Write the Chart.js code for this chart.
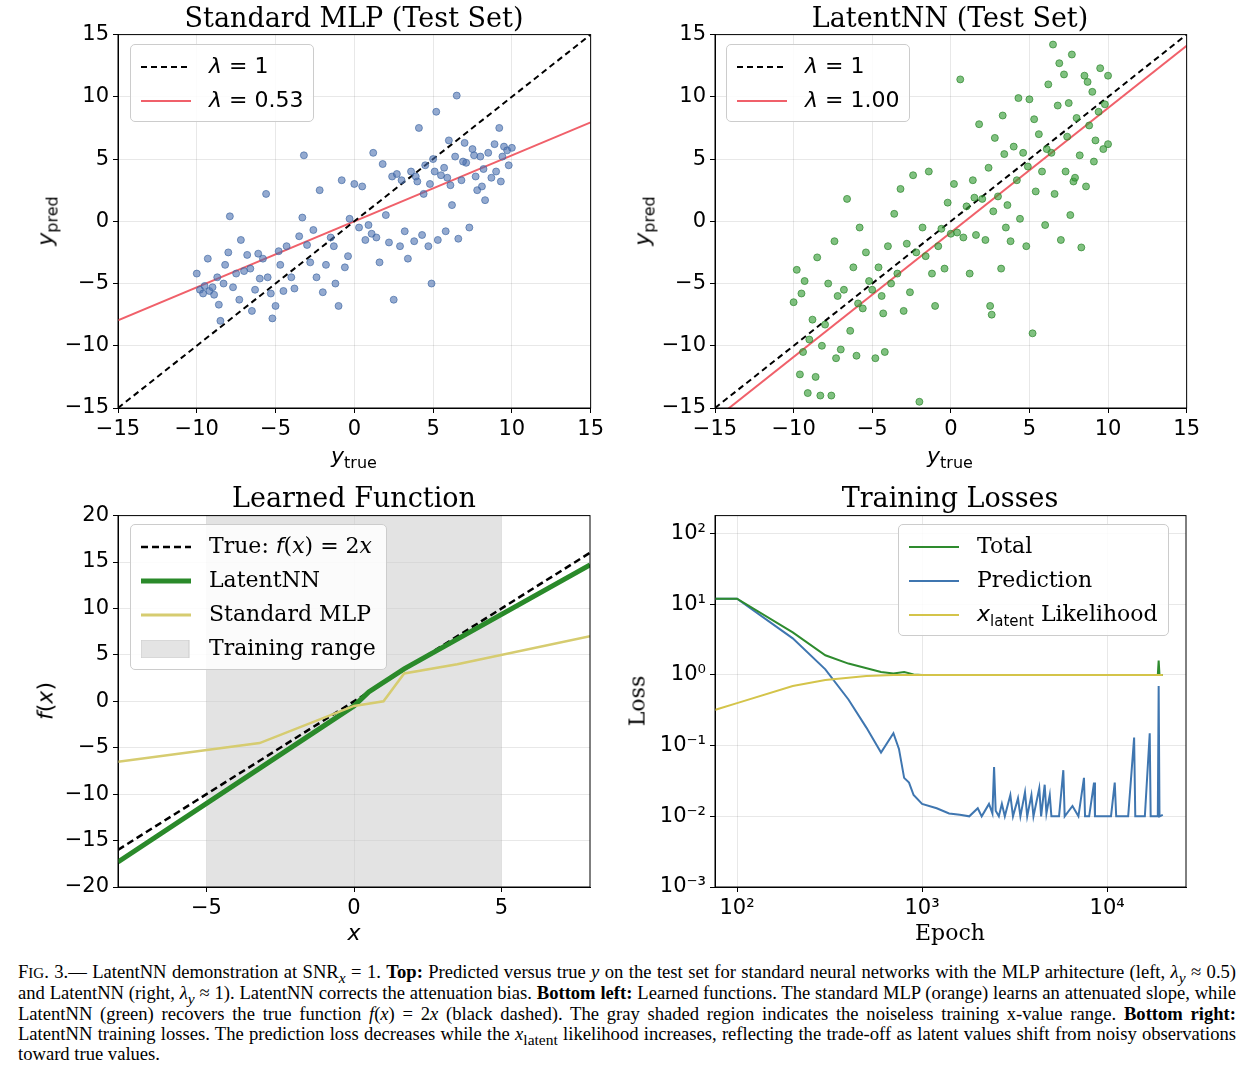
<!DOCTYPE html>
<html><head><meta charset="utf-8">
<script src="https://cdn.jsdelivr.net/npm/chart.js@4"></script>
<style>
body{margin:0;width:1251px;height:1069px;background:#fff;position:relative;font-family:"DejaVu Sans";}
canvas{position:absolute;}
sub{line-height:0;}
.t{position:absolute;font-family:"DejaVu Serif";font-size:27px;transform:translateX(-50%);white-space:nowrap;}
.al{position:absolute;font-size:22px;white-space:nowrap;transform:translate(-50%,-50%);}
.rot{transform:translate(-50%,-50%) rotate(-90deg);}
.lg{position:absolute;background:rgba(255,255,255,0.85);border:1px solid #ccc;border-radius:5px;font-size:22px;padding:4px 10px;}
.lg div{height:34px;line-height:34px;white-space:nowrap;}
.lg svg{vertical-align:middle;margin-right:18px;}
.cap{position:absolute;left:18px;top:962px;width:1218px;font-family:"Liberation Serif";font-size:18.6px;line-height:20.3px;text-align:justify;}
</style></head><body>
<canvas id="c1" style="left:43px;top:18px" width="565" height="425"></canvas>
<canvas id="c2" style="left:640px;top:18px" width="564" height="425"></canvas>
<canvas id="c3" style="left:43px;top:499px" width="557" height="423"></canvas>
<canvas id="c4" style="left:640px;top:499px" width="556" height="423"></canvas>

<div class="t" style="left:354px;top:2px">Standard MLP (Test Set)</div>
<div class="t" style="left:950px;top:2px">LatentNN (Test Set)</div>
<div class="t" style="left:354px;top:482px">Learned Function</div>
<div class="t" style="left:950px;top:482px">Training Losses</div>

<div class="al" style="left:354px;top:455px"><i>y</i><sub style="font-size:16px">true</sub></div>
<div class="al" style="left:950px;top:455px"><i>y</i><sub style="font-size:16px">true</sub></div>
<div class="al rot" style="left:45px;top:221px"><i>y</i><sub style="font-size:16px">pred</sub></div>
<div class="al rot" style="left:642px;top:221px"><i>y</i><sub style="font-size:16px">pred</sub></div>
<div class="al" style="left:354px;top:932px"><i>x</i></div>
<div class="al rot" style="left:45px;top:701px"><i>f</i>(<i>x</i>)</div>
<div class="al" style="left:950px;top:932px;font-family:'DejaVu Serif'">Epoch</div>
<div class="al rot" style="left:637px;top:701px;font-family:'DejaVu Serif'">Loss</div>

<div class="lg" style="left:130px;top:44px">
<div><svg width="50" height="4"><line x1="0" y1="2" x2="50" y2="2" stroke="#000" stroke-width="2" stroke-dasharray="6,4"/></svg><i>λ</i> = 1</div>
<div><svg width="50" height="4"><line x1="0" y1="2" x2="50" y2="2" stroke="#f0606a" stroke-width="2"/></svg><i>λ</i> = 0.53</div></div>
<div class="lg" style="left:726px;top:44px">
<div><svg width="50" height="4"><line x1="0" y1="2" x2="50" y2="2" stroke="#000" stroke-width="2" stroke-dasharray="6,4"/></svg><i>λ</i> = 1</div>
<div><svg width="50" height="4"><line x1="0" y1="2" x2="50" y2="2" stroke="#f0606a" stroke-width="2"/></svg><i>λ</i> = 1.00</div></div>
<div class="lg" style="left:130px;top:524px;font-family:'DejaVu Serif'">
<div><svg width="50" height="6"><line x1="0" y1="3" x2="50" y2="3" stroke="#000" stroke-width="2.5" stroke-dasharray="7,4"/></svg>True: <i style="font-family:'DejaVu Sans'">f</i>(<i>x</i>) = 2<i>x</i></div>
<div><svg width="50" height="6"><line x1="0" y1="3" x2="50" y2="3" stroke="#2a8a2a" stroke-width="5"/></svg>LatentNN</div>
<div><svg width="50" height="6"><line x1="0" y1="3" x2="50" y2="3" stroke="#d6cc70" stroke-width="3"/></svg>Standard MLP</div>
<div><svg width="50" height="18"><rect x="0" y="0" width="48" height="18" fill="#e4e4e4" stroke="#ccc"/></svg>Training range</div></div>
<div class="lg" style="left:898px;top:524px;font-family:'DejaVu Serif'">
<div><svg width="50" height="4"><line x1="0" y1="2" x2="50" y2="2" stroke="#2e8b2e" stroke-width="2"/></svg>Total</div>
<div><svg width="50" height="4"><line x1="0" y1="2" x2="50" y2="2" stroke="#3f76b0" stroke-width="2"/></svg>Prediction</div>
<div><svg width="50" height="4"><line x1="0" y1="2" x2="50" y2="2" stroke="#d4c44a" stroke-width="2"/></svg><i style="font-family:'DejaVu Sans'">x</i><sub style="font-size:15px;font-family:'DejaVu Sans'">latent</sub> Likelihood</div></div>

<div class="cap">F<span style="font-size:15px">IG</span>. 3.— LatentNN demonstration at SNR<sub><i>x</i></sub> = 1. <b>Top:</b> Predicted versus true <i>y</i> on the test set for standard neural networks with the MLP arhitecture (left, <i>λ<sub>y</sub></i> ≈ 0.5) and LatentNN (right, <i>λ<sub>y</sub></i> ≈ 1). LatentNN corrects the attenuation bias. <b>Bottom left:</b> Learned functions. The standard MLP (orange) learns an attenuated slope, while LatentNN (green) recovers the true function <i>f</i>(<i>x</i>) = 2<i>x</i> (black dashed). The gray shaded region indicates the noiseless training x-value range. <b>Bottom right:</b> LatentNN training losses. The prediction loss decreases while the <i>x</i><sub>latent</sub> likelihood increases, reflecting the trade-off as latent values shift from noisy observations toward true values.</div>

<script>
const mlpPoints=[[-10,-4.2],[-9.8,-5.5],[-9.6,-5.8],[-9.5,-5.2],[-9.3,-3],[-9.2,-5.6],[-9,-5.3],[-8.9,-5.9],[-8.7,-4.5],[-8.6,-6.7],[-8.5,-8],[-8.3,-5],[-8.2,-3.5],[-8,-2.5],[-7.9,0.4],[-7.7,-5.3],[-7.5,-4.2],[-7.3,-6.3],[-7.2,-1.5],[-7,-4],[-6.8,-2.7],[-6.6,-3.8],[-6.5,-7.2],[-6.3,-5.5],[-6.1,-2.6],[-6,-4.6],[-5.8,-3],[-5.6,2.2],[-5.5,-4.5],[-5.3,-5.8],[-5.2,-7.8],[-5,-6.8],[-4.8,-2.4],[-4.7,-3.5],[-4.5,-5.6],[-4.3,-2],[-4,-4.5],[-3.8,-5.4],[-3.5,-1.2],[-3.3,0.3],[-3.2,5.3],[-3,-1.9],[-2.8,-3.3],[-2.6,-0.7],[-2.4,-4.5],[-2.2,2.5],[-2,-5.7],[-1.8,-3.5],[-1.5,-1.3],[-1.3,-2],[-1.2,-5],[-1,-6.8],[-0.8,3.3],[-0.6,-3.7],[-0.4,-2.8],[-0.3,0.2],[0,3],[0.3,-0.5],[0.5,2.8],[0.7,-1.5],[0.9,-0.3],[1.1,-1],[1.2,5.5],[1.4,-1.3],[1.6,-3.3],[1.8,4.6],[2,0.5],[2.2,-1.7],[2.4,3.6],[2.5,-6.3],[2.7,3.8],[2.9,-2],[3,3.3],[3.2,-0.8],[3.4,-3],[3.6,4],[3.8,-1.6],[4,3.2],[4.1,7.5],[4.3,-1.1],[4.5,4.5],[4.7,-2],[4.9,-5],[5,5],[5.2,8.8],[5.3,-1.5],[5.5,3.7],[5.7,4.3],[5.8,-0.8],[6,6.5],[6.1,2.9],[6.2,1.3],[6.4,5.2],[6.5,10.1],[6.6,-1.4],[6.8,3.3],[7,6.3],[7.1,4.7],[7.3,-0.5],[7.5,5.8],[7.7,3.6],[7.8,2.5],[8,5.2],[8.2,4.2],[8.3,1.7],[8.5,5.5],[8.7,3.5],[8.9,6.2],[9,4],[9.2,7.5],[9.3,3.2],[9.5,6],[9.7,5.7],[9.8,4.5],[10,5.9],[3.9,3.6],[4.4,2.2],[5.9,3.5],[6.9,4.8],[7.6,5.3],[8.1,2.8],[9.4,5.2],[5.1,4],[4.8,3]];
const latentPoints=[[-10,-6.5],[-9.8,-3.9],[-9.6,-12.3],[-9.4,-10.5],[-9.3,-4.8],[-9.1,-13.8],[-9,-9.5],[-8.8,-7.9],[-8.6,-12.5],[-8.5,-2.9],[-8.3,-14],[-8.2,-10],[-8,-8.3],[-7.8,-5],[-7.6,-14],[-7.4,-1.6],[-7.2,-6],[-7,-10.3],[-6.8,-5.5],[-6.6,1.8],[-6.4,-8.8],[-6.2,-3.7],[-6,-10.8],[-5.8,-0.5],[-5.6,-7],[-5.4,-2.5],[-5.2,-4.8],[-5,-5.5],[-4.8,-11],[-4.6,-3.7],[-4.4,-6],[-4.2,-10.5],[-4,-2],[-3.8,-5],[-3.6,0.6],[-3.4,-4.2],[-3.2,2.6],[-3,-7.2],[-2.8,-1.8],[-2.6,-5.7],[-2.4,3.7],[-2.2,-2.5],[-2,-14.5],[-1.8,-0.5],[-1.6,-2.8],[-1.4,4],[-1.2,-4.2],[-1,-6.8],[-0.8,-2],[-0.6,-0.6],[-0.4,-3.8],[-0.2,1.5],[0,-1],[0.2,3],[0.4,-0.9],[0.6,11.4],[0.8,-1.3],[1,1.2],[1.2,-4.2],[1.4,3.3],[1.6,-1.1],[1.8,7.8],[2,1.8],[2.2,-1.5],[2.4,4.3],[2.5,-6.8],[2.6,-7.5],[2.8,6.7],[3,2],[3.2,-3.8],[3.4,5.4],[3.6,1.3],[3.8,-1.6],[4,6],[4.2,3.3],[4.4,0.2],[4.6,5.5],[4.8,-2],[5,9.8],[5.2,-9],[5.4,2.4],[5.6,7],[5.8,4],[6,-0.3],[6.2,11],[6.4,5.5],[6.5,14.2],[6.6,2.2],[6.8,9.3],[7,-1.5],[7.2,11.8],[7.3,4],[7.4,6.8],[7.6,0.5],[7.7,13.4],[7.8,3.2],[8,8.3],[8.2,5.3],[8.3,-2.1],[8.5,11.7],[8.6,2.8],[8.8,7.7],[9,10.4],[9.2,6.5],[9.4,8.8],[9.5,12.3],[9.7,5.8],[9.8,9.4],[10,6.2],[10,11.7],[7.5,9.5],[6.9,12.7],[5.3,8.2],[4.3,9.9],[3.5,-0.5],[8.7,11.2],[6.1,5.8],[7.9,3.5],[9.1,4.8],[2.7,0.8],[1.5,1.9],[3.3,8.5],[4.9,4.4],[-4.3,-7.4],[-5.9,-6.6],[-7.3,-11],[-9.5,-5.8]];
const identityLine=[[-15,-15],[15,15]];
const mlpFit=[[-15,-7.95],[15,7.95]];
const latentFit=[[-15,-15.9],[15,14.1]];
const trueFn=[[-8,-16],[8,16]];
const latentFn=[[-8,-17.3],[0,-0.5],[0.5,1],[1.7,3.5],[8,14.7]];
const mlpFn=[[-8,-6.5],[-3.2,-4.5],[0,-0.5],[1,0],[1.7,3],[3.5,4],[8,7]];
const trainRange=[-5,5];
const totalLoss=[[70,12],[100,12],[200,4],[300,1.9],[400,1.45],[600,1.1],[700,1.05],[800,1.1],[900,1.02],[1000,1],[5000,1],[18800,1],[19000,1.6],[19200,1],[20000,1]];
const predLoss=[[70,12],[100,12],[200,3.3],[300,1.2],[400,0.45],[500,0.18],[600,0.08],[700,0.15],[750,0.09],[800,0.035],[850,0.03],[900,0.02],[1000,0.015],[1200,0.013],[1400,0.011],[1600,0.0105],[1800,0.01],[2000,0.013],[2100,0.01],[2300,0.015],[2400,0.011],[2450,0.05],[2500,0.012],[2600,0.01],[2700,0.015],[2800,0.01],[3000,0.02],[3100,0.01],[3300,0.018],[3400,0.01],[3600,0.022],[3700,0.01],[3900,0.02],[4000,0.01],[4300,0.025],[4400,0.01],[4600,0.028],[4700,0.011],[4900,0.02],[5000,0.01],[5500,0.01],[5800,0.045],[5900,0.01],[6500,0.014],[7000,0.01],[7500,0.035],[7600,0.01],[8000,0.01],[8500,0.03],[8600,0.01],[9500,0.01],[10500,0.01],[11000,0.03],[11200,0.01],[13000,0.01],[14000,0.13],[14200,0.01],[16000,0.01],[17000,0.15],[17200,0.01],[18800,0.01],[19000,0.7],[19200,0.01],[20000,0.0105]];
const likeLoss=[[70,0.3],[100,0.4],[200,0.7],[300,0.85],[500,0.97],[700,1],[20000,1]];
const linTicks15=[-15,-10,-5,0,5,10,15];
const fxTicksX=[-5,0,5];
const fxTicksY=[-20,-15,-10,-5,0,5,10,15,20];
const logTicksX=[100,1000,10000];
const logTicksY=[0.001,0.01,0.1,1,10,100];

Chart.defaults.font.family="DejaVu Sans";
Chart.defaults.font.size=21;
Chart.defaults.color="#000";
Chart.defaults.animation=false;
const pts=a=>a.map(p=>({x:p[0],y:p[1]}));
const minus=v=>String(v).replace('-','−');
const sup={'-':'⁻','0':'⁰','1':'¹','2':'²','3':'³','4':'⁴'};
const logLab=v=>'10'+String(Math.round(Math.log10(v))).split('').map(c=>sup[c]).join('');
const box={id:'box',afterDraw(c){const a=c.chartArea,x=c.ctx;x.save();x.strokeStyle='#000';x.lineWidth=1;x.strokeRect(a.left,a.top,a.right-a.left,a.bottom-a.top);x.restore();}};
const shade={id:'shade',beforeDatasetsDraw(c){if(!c.options.plugins.shadeRange)return;const r=c.options.plugins.shadeRange,a=c.chartArea,x=c.ctx,s=c.scales.x;x.save();x.fillStyle='rgba(200,200,200,0.5)';const l=s.getPixelForValue(r[0]),rr=s.getPixelForValue(r[1]);x.fillRect(l,a.top,rr-l,a.bottom-a.top);x.restore();}};
function scale(min,max,ticks,fmt,isY,type){return {type:type||'linear',min,max,
 afterBuildTicks:s=>{s.ticks=ticks.map(v=>({value:v}));},
 afterFit:s=>{if(isY)s.width=75;else s.height=35;},
 ticks:{callback:fmt,padding:4,maxRotation:0,autoSkip:false},
 grid:{color:'rgba(0,0,0,0.09)',drawTicks:true,tickLength:5,tickColor:'#000'},border:{color:'#000'}};}
function mk(id,datasets,xs,ys,extra){return new Chart(document.getElementById(id),{type:'scatter',data:{datasets},plugins:[box,shade],
 options:{responsive:false,layout:{padding:{top:10,right:10,left:0,bottom:0}},plugins:Object.assign({legend:{display:false},tooltip:{enabled:false}},extra||{}),scales:{x:xs,y:ys}}});}
const line=(d,c,w,dash)=>({data:pts(d),showLine:true,borderColor:c,borderWidth:w,borderDash:dash||[],pointRadius:0,fill:false});
const scat=(d,c,e)=>({data:pts(d),pointRadius:3.5,pointBackgroundColor:c,pointBorderColor:e,pointBorderWidth:0.8});

mk('c1',[scat(mlpPoints,'rgba(76,114,176,0.6)','rgba(60,100,160,0.8)'),line(identityLine,'#000',2,[6,4]),line(mlpFit,'#f0606a',2)],
 scale(-15,15,linTicks15,minus,false),scale(-15,15,linTicks15,minus,true));
mk('c2',[scat(latentPoints,'rgba(60,160,60,0.65)','rgba(40,130,40,0.85)'),line(identityLine,'#000',2,[6,4]),line(latentFit,'#f0606a',2)],
 scale(-15,15,linTicks15,minus,false),scale(-15,15,linTicks15,minus,true));
mk('c3',[line(mlpFn,'#d6cc70',2.5),line(latentFn,'#2a8a2a',5),line(trueFn,'#000',2.5,[7,4])],
 scale(-8,8,fxTicksX,minus,false),scale(-20,20,fxTicksY,minus,true),{shadeRange:trainRange});
mk('c4',[line(likeLoss,'#d4c44a',2),line(totalLoss,'#2e8b2e',2),line(predLoss,'#3f76b0',2)],
 scale(76,26700,logTicksX,logLab,false,'logarithmic'),scale(0.001,180,logTicksY,logLab,true,'logarithmic'));
</script>
</body></html>
